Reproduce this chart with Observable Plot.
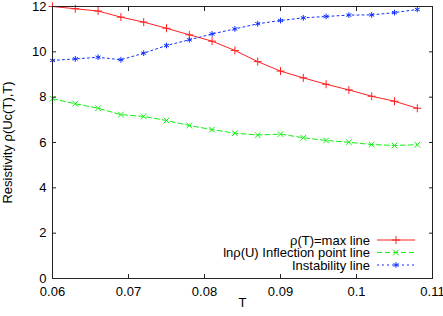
<!DOCTYPE html>
<html><head><meta charset="utf-8">
<script src="https://cdn.jsdelivr.net/npm/d3@7"></script>
<script src="https://cdn.jsdelivr.net/npm/@observablehq/plot@0.6"></script>
<style>body{margin:0;background:#fff}#chart{position:relative;width:443px;height:316px}</style>
</head><body><div id="chart"></div>
<script>
const T = [0.060,0.063,0.066,0.069,0.072,0.075,0.078,0.081,0.084,0.087,0.090,0.093,0.096,0.099,0.102,0.105,0.108];
const rhoMax = [12.0,11.9,11.8,11.53,11.31,11.04,10.75,10.47,10.06,9.57,9.15,8.85,8.57,8.32,8.04,7.82,7.51];
const inflection = [7.93,7.71,7.51,7.23,7.15,6.97,6.75,6.57,6.41,6.33,6.37,6.21,6.09,6.01,5.91,5.87,5.90];
const instability = [9.62,9.69,9.76,9.65,9.94,10.28,10.53,10.79,11.01,11.24,11.38,11.50,11.56,11.62,11.63,11.73,11.87];
const seriesNames = ["ρ(T)=max line","lnρ(U) Inflection point line","Instability line"];
const seriesValues = [rhoMax, inflection, instability];
const seriesColors = ["#ff2020","#10f010","#1030ff"];
const seriesDash = [null,"5,3","2,3"];
const seriesSymbols = ["plus","times","asterisk"];
const d3Symbols = [d3.symbolPlus, d3.symbolTimes, d3.symbolAsterisk];
const xTicks = [0.06,0.07,0.08,0.09,0.1,0.11];
const yTicks = [0,2,4,6,8,10,12];
const xLabel = "T";
const yLabel = "Resistivity ρ(Uc(T),T)";
const R = 2.7;

const fmt = d => String(+d.toFixed(2));
const marks = [];
seriesValues.forEach((vals, k) => {
  const rows = T.map((t, i) => ({T: t, v: vals[i]}));
  marks.push(Plot.line(rows, {x: "T", y: "v", stroke: seriesColors[k], strokeWidth: 1, strokeDasharray: seriesDash[k]}));
  marks.push(Plot.dot(rows, {x: "T", y: "v", symbol: seriesSymbols[k], stroke: seriesColors[k], r: R, strokeWidth: 1}));
});

const chart = Plot.plot({
  width: 443, height: 316,
  marginTop: 6, marginRight: 11, marginBottom: 38, marginLeft: 52,
  style: {fontFamily: "'Liberation Sans', Arial, sans-serif", fontSize: "13px", background: "#fff", color: "#000"},
  x: {domain: [0.06, 0.11]},
  y: {domain: [0, 12]},
  marks: [
    ...marks,
    Plot.frame({stroke: "#222", strokeWidth: 1}),
    Plot.axisX({ticks: xTicks, tickSize: 0, tickPadding: 8, tickFormat: fmt, label: xLabel, labelAnchor: "center", labelArrow: "none", labelOffset: 28}),
    Plot.axisX({anchor: "bottom", ticks: xTicks, tickSize: -4, tickFormat: () => "", label: null, stroke: "#222"}),
    Plot.axisX({anchor: "top", ticks: xTicks, tickSize: -4, tickFormat: () => "", label: null, stroke: "#222"}),
    Plot.axisY({ticks: yTicks, tickSize: 0, tickPadding: 6, tickFormat: fmt, label: yLabel, labelAnchor: "center", labelArrow: "none", labelOffset: 50}),
    Plot.axisY({anchor: "left", ticks: yTicks, tickSize: -4, tickFormat: () => "", label: null, stroke: "#222"}),
    Plot.axisY({anchor: "right", ticks: yTicks, tickSize: -4, tickFormat: () => "", label: null, stroke: "#222"})
  ]
});
document.getElementById("chart").appendChild(chart);

// legend inside plot area, bottom right
const svg = d3.select(chart);
const lg = svg.append("g").attr("font-family", "'Liberation Sans', Arial, sans-serif").attr("font-size", 13);
seriesNames.forEach((name, k) => {
  const y = 240 + k * 12.5;
  lg.append("text").attr("x", 370).attr("y", y).attr("dy", "0.35em").attr("text-anchor", "end").attr("fill", "#000").text(name);
  lg.append("line").attr("x1", 377).attr("x2", 415).attr("y1", y).attr("y2", y)
    .attr("stroke", seriesColors[k]).attr("stroke-width", 1).attr("stroke-dasharray", seriesDash[k]);
  lg.append("path").attr("transform", `translate(396,${y})`)
    .attr("d", d3.symbol(d3Symbols[k], Math.PI * R * R)()).attr("fill", "none").attr("stroke", seriesColors[k]).attr("stroke-width", 1);
});
</script></body></html>
